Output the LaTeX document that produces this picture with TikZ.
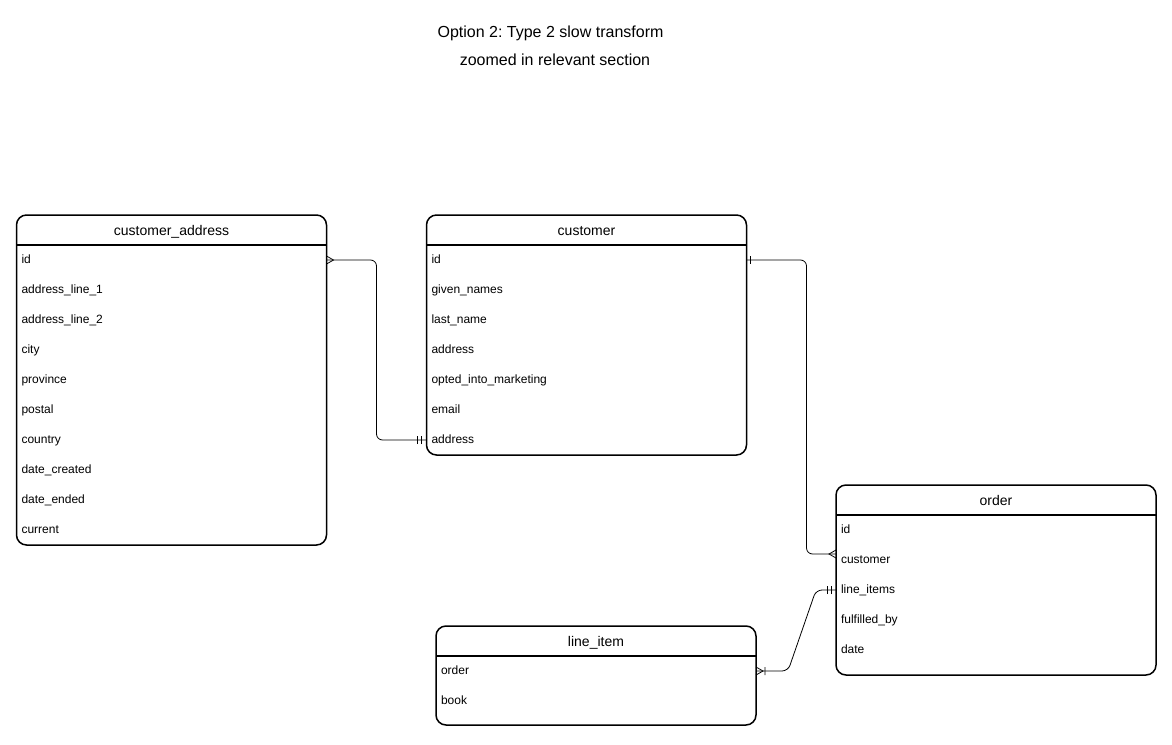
\documentclass[tikz,border=0pt]{standalone}
\usepackage{fontspec}
\setmainfont{Liberation Sans}
\usetikzlibrary{positioning}
\frenchspacing

\begin{document}
\begin{tikzpicture}[
  x=1pt, y=-1pt,
  node distance=0pt,
  title/.style={inner sep=0pt,font=\fontsize{16}{18}\selectfont},
  tablehead/.style={minimum width=320pt,minimum height=30pt,inner sep=0pt,outer sep=0pt,
    text height=12pt,text depth=1pt,font=\fontsize{14}{16}\selectfont},
  field/.style={text width=310pt,inner xsep=5pt,inner ysep=0pt,outer sep=0pt,minimum height=30pt,
    text height=9pt,text depth=3pt,align=left,font=\fontsize{12}{14}\selectfont},
  tablebox/.style={draw,line width=1.5pt,rounded corners=10pt},
  link/.style={draw,line width=0.8pt,rounded corners=6pt},
  many/.pic={\draw[line width=0.8pt] (0,-4) -- (7,0) -- (0,4);},
  onebar/.pic={\draw[line width=0.8pt] (4,-4) -- (4,4);},
  twobar/.pic={\draw[line width=0.8pt] (5,-4) -- (5,4) (9,-4) -- (9,4);},
  onemany/.pic={\draw[line width=0.8pt] (0,-4) -- (7,0) -- (0,4) (9,-4) -- (9,4);}
    ]
\useasboundingbox (0,0) rectangle (1172,744);

\node[title] (t1) at (550.5,33) {Option 2: Type 2 slow transform};
\node[title] (t2) at (555,59.5) {zoomed in relevant section};

% customer_address
\node[tablehead,minimum width=310pt] (ca) at (171.5,230) {customer\_address};
\node[field,text width=300pt,below=of ca] (ca-id) {id};
\node[field,text width=300pt,below=of ca-id] (ca-l1) {address\_line\_1};
\node[field,text width=300pt,below=of ca-l1] (ca-l2) {address\_line\_2};
\node[field,text width=300pt,below=of ca-l2] (ca-city) {city};
\node[field,text width=300pt,below=of ca-city] (ca-prov) {province};
\node[field,text width=300pt,below=of ca-prov] (ca-post) {postal};
\node[field,text width=300pt,below=of ca-post] (ca-ctry) {country};
\node[field,text width=300pt,below=of ca-ctry] (ca-dc) {date\_created};
\node[field,text width=300pt,below=of ca-dc] (ca-de) {date\_ended};
\node[field,text width=300pt,below=of ca-de] (ca-cur) {current};
\draw[tablebox] (ca.north west) rectangle (ca-cur.south east);
\draw[line width=1.5pt] (ca.south west) -- (ca.south east);

% customer
\node[tablehead] (cu) at (586.5,230) {customer};
\node[field,below=of cu] (cu-id) {id};
\node[field,below=of cu-id] (cu-gn) {given\_names};
\node[field,below=of cu-gn] (cu-ln) {last\_name};
\node[field,below=of cu-ln] (cu-adr) {address};
\node[field,below=of cu-adr] (cu-opt) {opted\_into\_marketing};
\node[field,below=of cu-opt] (cu-mail) {email};
\node[field,below=of cu-mail] (cu-addr) {address};
\draw[tablebox] (cu.north west) rectangle (cu-addr.south east);
\draw[line width=1.5pt] (cu.south west) -- (cu.south east);

% order
\node[tablehead] (or) at (996,500) {order};
\node[field,below=of or] (or-id) {id};
\node[field,below=of or-id] (or-cust) {customer};
\node[field,below=of or-cust] (or-li) {line\_items};
\node[field,below=of or-li] (or-fb) {fulfilled\_by};
\node[field,below=of or-fb] (or-date) {date};
\draw[tablebox] (or.north west) rectangle ([yshift=-10pt]or-date.south east);
\draw[line width=1.5pt] (or.south west) -- (or.south east);

% line_item
\node[tablehead] (li) at (596,641) {line\_item};
\node[field,below=of li] (li-ord) {order};
\node[field,below=of li-ord] (li-book) {book};
\draw[tablebox] (li.north west) rectangle ([yshift=-9pt]li-book.south east);
\draw[line width=1.5pt] (li.south west) -- (li.south east);

% relations
\draw[link] (ca-id.east) -- ++(50,0) |- (cu-addr.west);
\draw[link] (cu-id.east) -- ++(60,0) |- ([yshift=6pt]or-cust.west);
\draw[link] (or-li.west) -- ++(-20,0) -- ([xshift=32pt]li-ord.east) -- (li-ord.east);

\pic at (ca-id.east) {many};
\pic[rotate=180] at (cu-addr.west) {twobar};
\pic at (cu-id.east) {onebar};
\pic[rotate=180] at ([yshift=6pt]or-cust.west) {many};
\pic[rotate=180] at (or-li.west) {twobar};
\pic at (li-ord.east) {onemany};
\end{tikzpicture}
\end{document}
